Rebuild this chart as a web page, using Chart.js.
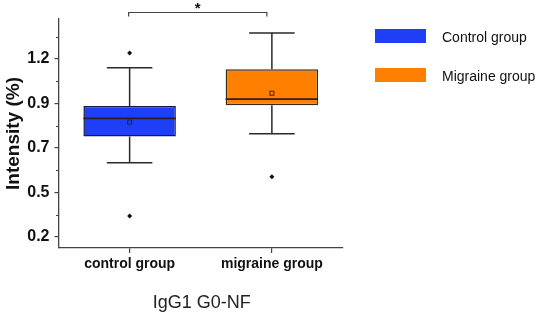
<!DOCTYPE html>
<html><head><meta charset="utf-8">
<script src="https://cdn.jsdelivr.net/npm/chart.js@4/dist/chart.umd.min.js"></script>
<style>html,body{margin:0;padding:0;background:#fff}#wrap{width:536px;height:317px}</style>
</head><body><div id="wrap"><canvas id="c" width="536" height="317"></canvas></div>
<script>
const categories = ['control group', 'migraine group'];
const seriesNames = ['Control group', 'Migraine group'];
const q1 = [0.750, 0.911];
const q3 = [0.907, 1.097];
const medians = [0.843, 0.943];
const means = [0.824, 0.973];
const whiskerLow = [0.614, 0.764];
const whiskerHigh = [1.105, 1.284];
const outliers = [[1.181, 0.339], [0.542]];
const tickValues = [0.23, 0.46, 0.69, 0.92, 1.15];
const tickLabels = ['0.2', '0.5', '0.7', '0.9', '1.2'];
const yTitle = 'Intensity (%)';
const xTitle = 'IgG1 G0-NF';
const significance = '*';

const colors = ['#1f3ff7', '#ff8000'];
const FONT = "'Liberation Sans', Arial, sans-serif";

const datasets = seriesNames.map((name, i) => ({
  label: name,
  data: categories.map((c, j) => j === i ? [q1[i], q3[i]] : null),
  backgroundColor: colors[i],
  borderColor: i === 0 ? '#14184a' : '#3a2a1a',
  borderWidth: 1.5,
  borderSkipped: false,
  grouped: false,
  categoryPercentage: 1,
  barPercentage: 0.65
}));

const boxPlugin = {
  id: 'boxExtras',
  beforeDatasetsDraw(chart) {
    const ctx = chart.ctx, x = chart.scales.x, y = chart.scales.y;
    ctx.save();
    ctx.strokeStyle = '#2a2a2a';
    ctx.lineWidth = 1.5;
    categories.forEach((c, i) => {
      const cx = x.getPixelForValue(i);
      const half = (x.getPixelForValue(1) - x.getPixelForValue(0)) * 0.16;
      ctx.beginPath();
      ctx.moveTo(cx, y.getPixelForValue(whiskerHigh[i]));
      ctx.lineTo(cx, y.getPixelForValue(q3[i]));
      ctx.moveTo(cx, y.getPixelForValue(q1[i]));
      ctx.lineTo(cx, y.getPixelForValue(whiskerLow[i]));
      ctx.moveTo(cx - half, y.getPixelForValue(whiskerHigh[i]));
      ctx.lineTo(cx + half, y.getPixelForValue(whiskerHigh[i]));
      ctx.moveTo(cx - half, y.getPixelForValue(whiskerLow[i]));
      ctx.lineTo(cx + half, y.getPixelForValue(whiskerLow[i]));
      ctx.stroke();
    });
    ctx.restore();
  },
  afterDatasetsDraw(chart) {
    const ctx = chart.ctx, x = chart.scales.x, y = chart.scales.y;
    ctx.save();
    categories.forEach((c, i) => {
      const meta = chart.getDatasetMeta(i);
      const bar = meta.data[i];
      const cx = x.getPixelForValue(i);
      const w = bar.width;
      ctx.strokeStyle = '#2a2020';
      ctx.lineWidth = 1.8;
      ctx.beginPath();
      const my = y.getPixelForValue(medians[i]);
      ctx.moveTo(cx - w / 2, my); ctx.lineTo(cx + w / 2, my);
      ctx.stroke();
      ctx.lineWidth = 1.2;
      ctx.strokeStyle = i === 0 ? '#1a2a70' : '#6a3000';
      const mny = y.getPixelForValue(means[i]);
      ctx.strokeRect(cx - 2, mny - 2, 4, 4);
      ctx.fillStyle = '#111';
      outliers[i].forEach(v => {
        const oy = y.getPixelForValue(v);
        ctx.beginPath();
        ctx.moveTo(cx, oy - 2.5); ctx.lineTo(cx + 2.5, oy); ctx.lineTo(cx, oy + 2.5); ctx.lineTo(cx - 2.5, oy);
        ctx.closePath(); ctx.fill();
      });
    });
    ctx.strokeStyle = '#444';
    ctx.lineWidth = 1;
    for (let k = 0; k < tickValues.length; k++) {
      const step = tickValues[1] - tickValues[0];
      const mv = tickValues[k] + step / 2;
      if (mv > y.max) continue;
      const py = Math.round(y.getPixelForValue(mv)) + 0.5;
      ctx.beginPath(); ctx.moveTo(y.right - 2.5, py); ctx.lineTo(y.right, py); ctx.stroke();
    }
    const bx0 = x.getPixelForValue(0) - 1, bx1 = x.getPixelForValue(1) - 5;
    const by = chart.chartArea.top - 6.5;
    ctx.strokeStyle = '#444'; ctx.lineWidth = 1.2;
    ctx.beginPath();
    ctx.moveTo(bx0, by + 4); ctx.lineTo(bx0, by); ctx.lineTo(bx1, by); ctx.lineTo(bx1, by + 4);
    ctx.stroke();
    ctx.fillStyle = '#111';
    ctx.font = 'bold 15px ' + FONT;
    ctx.textAlign = 'center'; ctx.textBaseline = 'middle';
    ctx.fillText(significance, (bx0 + bx1) / 2, by - 3.5);
    ctx.font = 'bold 19px ' + FONT;
    ctx.save();
    ctx.translate(14, (chart.chartArea.top + chart.chartArea.bottom) / 2);
    ctx.rotate(-Math.PI / 2);
    ctx.fillText(yTitle, 0, 0);
    ctx.restore();
    ctx.font = '18px ' + FONT;
    ctx.fillStyle = '#222';
    ctx.fillText(xTitle, (chart.chartArea.left + chart.chartArea.right) / 2 + 1, 303);
    seriesNames.forEach((n, i) => {
      const ly = 29 + i * 39;
      ctx.fillStyle = colors[i];
      ctx.fillRect(375, ly, 51, 14);
      ctx.fillStyle = '#111';
      ctx.font = '14px ' + FONT;
      ctx.textAlign = 'left';
      ctx.fillText(n, 442, ly + 9);
    });
    ctx.restore();
  }
};

new Chart(document.getElementById('c'), {
  type: 'bar',
  data: { labels: categories, datasets },
  options: {
    responsive: false,
    animation: false,
    devicePixelRatio: 1,
    layout: { padding: { left: 0, top: 19, right: 193, bottom: 0 } },
    plugins: { legend: { display: false }, tooltip: { enabled: false } },
    scales: {
      x: {
        offset: true,
        grid: { display: true, drawOnChartArea: false, offset: false, tickLength: 5, color: '#444', lineWidth: 1.2 },
        border: { display: true, color: '#444', width: 1.3 },
        ticks: { font: { family: FONT, size: 14, weight: 'bold' }, color: '#111', padding: 3, maxRotation: 0 },
        afterFit(s) { s.height = 69; }
      },
      y: {
        min: 0.173,
        max: 1.357,
        afterBuildTicks(s) { s.ticks = tickValues.map(v => ({ value: v })); },
        grid: { display: true, drawOnChartArea: false, tickLength: 4, color: '#444', lineWidth: 1.2 },
        border: { display: true, color: '#444', width: 1.3 },
        ticks: {
          font: { family: FONT, size: 16, weight: 'bold' }, color: '#111', padding: 5,
          callback: (v, idx) => tickLabels[idx]
        },
        afterFit(s) { s.width = 58.5; }
      }
    }
  },
  plugins: [boxPlugin]
});
</script>
</body></html>
